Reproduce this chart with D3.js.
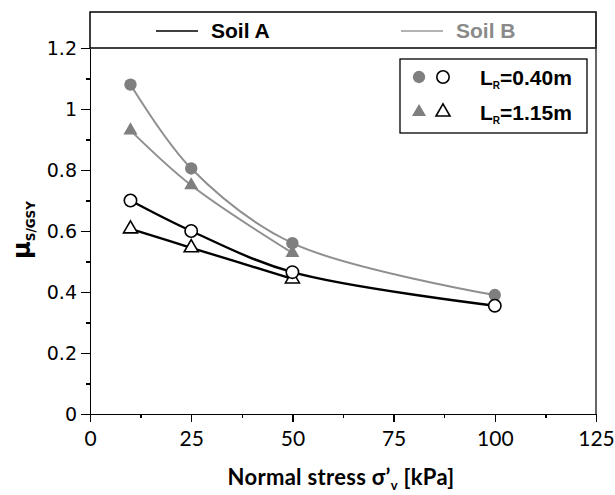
<!DOCTYPE html>
<html>
<head>
<meta charset="utf-8">
<script src="https://cdn.jsdelivr.net/npm/d3@7"></script>
<style>
  body { margin: 0; background: #fff; }
  svg { display: block; }
  .axis path, .axis line { stroke: #000; stroke-width: 1.5; shape-rendering: crispEdges; }
</style>
</head>
<body>
<svg id="chart"></svg>
<script>
// values
let stress = [10, 25, 50, 100];
let soilA_040 = [0.70, 0.60, 0.465, 0.355];
let soilA_115 = [0.607, 0.545, 0.443];
let soilB_040 = [1.08, 0.805, 0.56, 0.39];
let soilB_115 = [0.93, 0.75, 0.528];

let xTicks = [0, 25, 50, 75, 100, 125];
let xMinor = [12.5, 37.5, 62.5, 87.5, 112.5];
let yTicks = [0, 0.2, 0.4, 0.6, 0.8, 1, 1.2];
let yMinor = [0.1, 0.3, 0.5, 0.7, 0.9, 1.1];

let config = {
  'svg': {},
  'plot': {}
};

config.svg.width = 615;
config.svg.height = 495;

config.plot.x = 90;
config.plot.y = 48;
config.plot.width = 506;
config.plot.height = 366;
config.plot.top = 12;

let grayLine = '#8f8f8f';
let grayFill = '#7f7f7f';

let svg = d3.select('svg#chart')
  .attr('width', config.svg.width)
  .attr('height', config.svg.height);

let scale = {};
scale.x = d3.scaleLinear().domain([0, 125]).range([0, config.plot.width]);
scale.y = d3.scaleLinear().domain([0, 1.2]).range([config.plot.height, 0]);

let plot = svg.append('g')
  .attr('transform', translate(config.plot.x, config.plot.y));

// frame: legend band on top, right border
svg.append('rect')
  .attr('x', config.plot.x)
  .attr('y', config.plot.top)
  .attr('width', config.plot.width)
  .attr('height', config.plot.y - config.plot.top)
  .attr('fill', 'none')
  .attr('stroke', '#000')
  .attr('stroke-width', 1.5);

svg.append('line')
  .attr('x1', config.plot.x + config.plot.width)
  .attr('x2', config.plot.x + config.plot.width)
  .attr('y1', config.plot.top)
  .attr('y2', config.plot.y + config.plot.height)
  .attr('stroke', '#333')
  .attr('stroke-width', 1.5);

// axes
let axis = {};
axis.x = d3.axisBottom(scale.x).tickValues(xTicks).tickSize(8).tickSizeOuter(0).tickPadding(9);
axis.xMinor = d3.axisBottom(scale.x).tickValues(xMinor).tickSize(4).tickFormat('');
axis.y = d3.axisLeft(scale.y).tickValues(yTicks).tickSize(9).tickSizeOuter(0).tickPadding(4)
  .tickFormat(d => d3.format('~g')(d));
axis.yMinor = d3.axisLeft(scale.y).tickValues(yMinor).tickSize(4).tickFormat('');

let gx = svg.append('g')
  .attr('class', 'axis')
  .attr('transform', translate(config.plot.x, config.plot.y + config.plot.height))
  .call(axis.x);
gx.selectAll('text')
  .attr('font-family', 'Lato, "Open Sans", sans-serif')
  .attr('font-size', '21px')
  .attr('fill', '#000');

svg.append('g')
  .attr('class', 'axis')
  .attr('transform', translate(config.plot.x, config.plot.y + config.plot.height))
  .call(axis.xMinor)
  .select('.domain').remove();

let gy = svg.append('g')
  .attr('class', 'axis')
  .attr('transform', translate(config.plot.x, config.plot.y))
  .call(axis.y);
gy.selectAll('text')
  .attr('font-family', '"DejaVu Sans", sans-serif')
  .attr('font-size', '19px')
  .attr('fill', '#000');

svg.append('g')
  .attr('class', 'axis')
  .attr('transform', translate(config.plot.x, config.plot.y))
  .call(axis.yMinor)
  .select('.domain').remove();

// curves
let line = d3.line()
  .x(d => scale.x(d[0]))
  .y(d => scale.y(d[1]))
  .curve(d3.curveCatmullRom.alpha(0.5));

let series = [
  {values: soilB_115, color: grayLine, fill: grayFill, shape: 'triangle', open: false, width: 2},
  {values: soilB_040, color: grayLine, fill: grayFill, shape: 'circle', open: false, width: 2},
  {values: soilA_115, color: '#000', fill: '#fff', shape: 'triangle', open: true, width: 2.4},
  {values: soilA_040, color: '#000', fill: '#fff', shape: 'circle', open: true, width: 2.4}
];

series.forEach(function(s) {
  let pts = s.values.map((v, i) => [stress[i], v]);
  plot.append('path')
    .datum(pts)
    .attr('d', line)
    .attr('fill', 'none')
    .attr('stroke', s.color)
    .attr('stroke-width', s.width);
});

series.forEach(function(s) {
  let pts = s.values.map((v, i) => [stress[i], v]);
  let sym = d3.symbol()
    .type(s.shape == 'circle' ? d3.symbolCircle : d3.symbolTriangle)
    .size(s.shape == 'circle' ? 120 : 85);
  plot.selectAll(null)
    .data(pts)
    .enter()
    .append('path')
    .attr('d', sym)
    .attr('transform', d => translate(scale.x(d[0]), scale.y(d[1])))
    .attr('fill', s.fill)
    .attr('stroke', s.open ? '#000' : 'none')
    .attr('stroke-width', 1.6);
});

drawLegend();
drawTitles();

function drawLegend() {
  // soil legend in the top band
  let band = [
    {label: 'Soil A', color: '#000', text: '#000', x: 156},
    {label: 'Soil B', color: '#9a9a9a', text: '#8a8a8a', x: 401}
  ];
  band.forEach(function(b) {
    svg.append('line')
      .attr('x1', b.x).attr('x2', b.x + 42)
      .attr('y1', 31).attr('y2', 31)
      .attr('stroke', b.color)
      .attr('stroke-width', 1.6);
    svg.append('text')
      .text(b.label)
      .attr('x', b.x + 55)
      .attr('y', 38)
      .attr('font-family', '"Liberation Sans", Arial, sans-serif')
      .attr('font-weight', 'bold')
      .attr('font-size', '21px')
      .attr('fill', b.text);
  });

  // marker legend box
  let box = svg.append('g').attr('transform', translate(400, 59));
  box.append('rect')
    .attr('width', 187)
    .attr('height', 74)
    .attr('fill', '#fff')
    .attr('stroke', '#000')
    .attr('stroke-width', 1.3);

  let rows = [
    {shape: d3.symbolCircle, size: 120, label: '=0.40m', y: 18},
    {shape: d3.symbolTriangle, size: 85, label: '=1.15m', y: 53}
  ];
  rows.forEach(function(r) {
    box.append('path')
      .attr('d', d3.symbol().type(r.shape).size(r.size))
      .attr('transform', translate(19, r.y))
      .attr('fill', grayFill);
    box.append('path')
      .attr('d', d3.symbol().type(r.shape).size(r.size))
      .attr('transform', translate(43, r.y))
      .attr('fill', '#fff')
      .attr('stroke', '#000')
      .attr('stroke-width', 1.6);
    let t = box.append('text')
      .attr('x', 80)
      .attr('y', r.y + 8)
      .attr('font-family', '"Liberation Sans", Arial, sans-serif')
      .attr('font-weight', 'bold')
      .attr('font-size', '21px')
      .attr('fill', '#000');
    t.append('tspan').text('L');
    t.append('tspan').text('R')
      .attr('font-size', '10px')
      .attr('dy', 4);
    t.append('tspan').text(r.label)
      .attr('dy', -4);
  });
}

function drawTitles() {
  let xt = svg.append('text')
    .attr('x', config.plot.x + config.plot.width / 2 - 2)
    .attr('y', 485)
    .attr('text-anchor', 'middle')
    .attr('font-family', 'Lato, "Open Sans", sans-serif')
    .attr('font-weight', 'bold')
    .attr('font-size', '22px')
    .attr('letter-spacing', '0.3px')
    .attr('fill', '#000');
  xt.append('tspan').text('Normal stress \u03c3\u2019');
  xt.append('tspan').text('v').attr('font-size', '13px').attr('dy', 5);
  xt.append('tspan').text(' [kPa]').attr('dy', -5);

  let yt = svg.append('text')
    .attr('transform', translate(30, 230) + ' rotate(-90)')
    .attr('text-anchor', 'middle')
    .attr('font-family', '"DejaVu Sans", sans-serif')
    .attr('font-weight', 'bold')
    .attr('font-size', '24px')
    .attr('fill', '#000');
  yt.append('tspan').text('\u03bc');
  yt.append('tspan').text('S/GSY').attr('font-size', '12px').attr('dy', 5);
}

function translate(x, y) {
  return 'translate(' + x + ',' + y + ')';
}
</script>
</body>
</html>
